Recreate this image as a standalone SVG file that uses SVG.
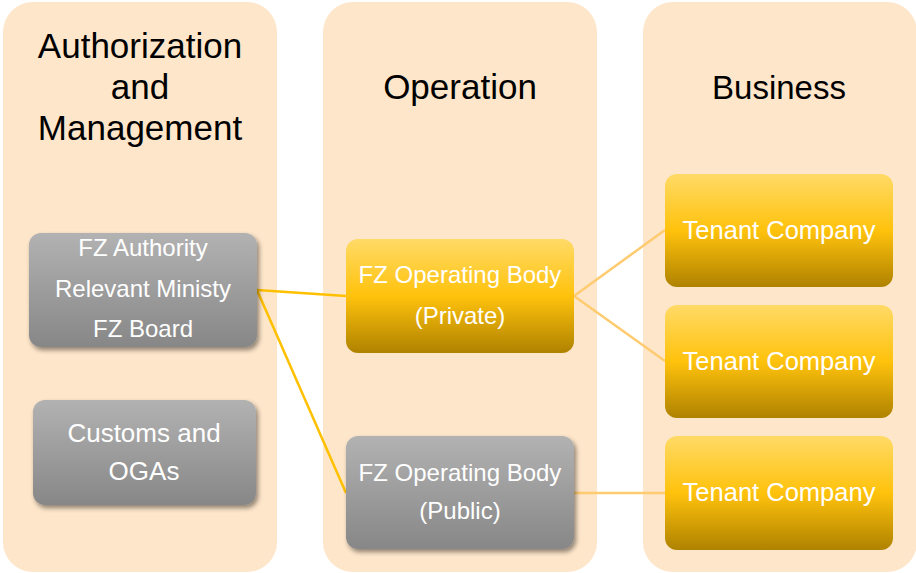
<svg xmlns="http://www.w3.org/2000/svg" width="916" height="573" viewBox="0 0 916 573">
  <defs>
    <linearGradient id="gold" x1="0" y1="0" x2="0" y2="1">
      <stop offset="0" stop-color="#FFDA66"/>
      <stop offset="0.5" stop-color="#FFC20C"/>
      <stop offset="1" stop-color="#AF8200"/>
    </linearGradient>
    <linearGradient id="gray" x1="0" y1="0" x2="0" y2="1">
      <stop offset="0" stop-color="#B2B2B2"/>
      <stop offset="1" stop-color="#878787"/>
    </linearGradient>
    <filter id="shadow" x="-10%" y="-10%" width="125%" height="130%">
      <feGaussianBlur in="SourceAlpha" stdDeviation="2.5"/>
      <feOffset dx="2" dy="3" result="b"/>
      <feComponentTransfer><feFuncA type="linear" slope="0.45"/></feComponentTransfer>
      <feMerge><feMergeNode/><feMergeNode in="SourceGraphic"/></feMerge>
    </filter>
  </defs>
  <style>
    .col { fill: #FEE6CA; }
    .head { font-family: "Liberation Sans", Arial, sans-serif; font-size: 35px; fill: #000; text-anchor: middle; }
    .gold { fill: url(#gold); }
    .gray { fill: url(#gray); filter: url(#shadow); }
    .lbl { font-family: "Liberation Sans", Arial, sans-serif; fill: #FFFFFF; text-anchor: middle; }
    .l24 { font-size: 24px; }
    .l26 { font-size: 25.5px; }
    .c1 { stroke: #FFC000; stroke-width: 2.5; fill: none; }
    .c2 { stroke: #FFCB70; stroke-width: 2.5; fill: none; }
  </style>

  <!-- column backgrounds -->
  <g id="columns">
    <rect class="col" x="3" y="2" width="274" height="570" rx="30"/>
    <rect class="col" x="323" y="2" width="274" height="570" rx="30"/>
    <rect class="col" x="643" y="2" width="274" height="570" rx="30"/>
  </g>

  <!-- column headings -->
  <g id="headings">
    <text class="head" x="140" y="58">Authorization</text>
    <text class="head" x="140" y="99">and</text>
    <text class="head" x="140" y="140">Management</text>
    <text class="head" x="460" y="99">Operation</text>
    <text class="head" x="779" y="99" style="font-size:33px">Business</text>
  </g>

  <!-- connectors -->
  <g id="connectors">
    <line class="c1" x1="257" y1="290" x2="346" y2="296"/>
    <line class="c1" x1="257" y1="290" x2="346" y2="493"/>
    <line class="c2" x1="574" y1="296" x2="665" y2="230"/>
    <line class="c2" x1="574" y1="296" x2="665" y2="361"/>
    <line class="c2" x1="574" y1="493" x2="665" y2="493"/>
  </g>

  <g id="authority">
    <rect class="gray" x="29" y="233" width="228" height="114" rx="12"/>
    <text class="lbl l24" x="143" y="256">FZ Authority</text>
    <text class="lbl l24" x="143" y="297">Relevant Ministy</text>
    <text class="lbl l24" x="143" y="337">FZ Board</text>
  </g>

  <g id="customs">
    <rect class="gray" x="33" y="400" width="223" height="105" rx="12"/>
    <text class="lbl" x="144" y="442" style="font-size:26px">Customs and</text>
    <text class="lbl" x="144" y="480" style="font-size:26px">OGAs</text>
  </g>

  <g id="op-private">
    <rect class="gold" x="346" y="239" width="228" height="114" rx="12"/>
    <text class="lbl l24" x="460" y="283">FZ Operating Body</text>
    <text class="lbl l24" x="460" y="324">(Private)</text>
  </g>

  <g id="op-public">
    <rect class="gray" x="346" y="436" width="228" height="113" rx="12"/>
    <text class="lbl l24" x="460" y="481">FZ Operating Body</text>
    <text class="lbl l24" x="460" y="519">(Public)</text>
  </g>

  <g id="tenant-1">
    <rect class="gold" x="665" y="174" width="228" height="113" rx="12"/>
    <text class="lbl l26" x="779" y="239">Tenant Company</text>
  </g>

  <g id="tenant-2">
    <rect class="gold" x="665" y="305" width="228" height="113" rx="12"/>
    <text class="lbl l26" x="779" y="370">Tenant Company</text>
  </g>

  <g id="tenant-3">
    <rect class="gold" x="665" y="436" width="228" height="114" rx="12"/>
    <text class="lbl l26" x="779" y="501">Tenant Company</text>
  </g>
</svg>
